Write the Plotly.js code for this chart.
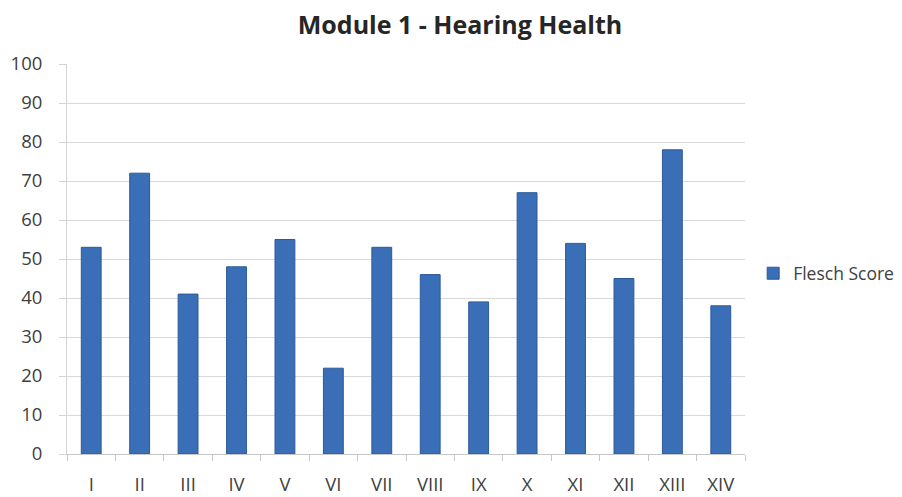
<!DOCTYPE html>
<html>
<head>
<meta charset="utf-8">
<script src="https://cdn.plot.ly/plotly-3.0.1.min.js"></script>
<style>html,body{margin:0;padding:0;background:#fff;}#chart{width:902px;height:497px;}</style>
</head>
<body>
<div id="chart"></div>
<script>
const categories = ["I","II","III","IV","V","VI","VII","VIII","IX","X","XI","XII","XIII","XIV"];
const fleschScore = [53,72,41,48,55,22,53,46,39,67,54,45,78,38];
const seriesName = "Flesch Score";
const yTicks = [0,10,20,30,40,50,60,70,80,90,100];

const font = "'Open Sans', 'Liberation Sans', sans-serif";
const trace = {
  type: 'bar',
  x: categories,
  y: fleschScore,
  name: seriesName,
  marker: { color: '#3a6eb6', line: { color: '#2c5a99', width: 1 } },
  showlegend: true
};
const layout = {
  width: 902, height: 497,
  margin: { l: 67, r: 157, t: 64, b: 43 },
  paper_bgcolor: '#ffffff', plot_bgcolor: '#ffffff',
  title: { text: '<b>Module 1 - Hearing Health</b>', font: { family: font, size: 25, color: '#262626' }, x: 0.51, xanchor: 'center', y: 0.95, yanchor: 'middle' },
  bargap: 0.59,
  xaxis: {
    type: 'category',
    tickson: 'boundaries', ticks: 'outside', ticklen: 6, tickcolor: '#c8c8c8',
    showline: true, linecolor: '#c8c8c8', linewidth: 1,
    showgrid: false,
    tickfont: { family: font, size: 18.5, color: '#404040' },
    ticklabelstandoff: 14
  },
  yaxis: {
    range: [0, 100], tickvals: yTicks, ticktext: yTicks.map(String),
    ticks: 'outside', ticklen: 7, tickcolor: '#d4d4d4',
    showline: true, linecolor: '#d4d4d4',
    gridcolor: '#d9d9d9', gridwidth: 1, zeroline: false,
    tickfont: { family: font, size: 18.5, color: '#404040' },
    ticklabelstandoff: 13
  },
  legend: { xref: 'container', yref: 'container', x: 0.835, xanchor: 'left', y: 0.45, yanchor: 'middle', font: { family: font, size: 17.5, color: '#404040' }, itemwidth: 30, bgcolor: 'rgba(0,0,0,0)' },
  showlegend: true
};
Plotly.newPlot('chart', [trace], layout, { displayModeBar: false, staticPlot: true });
</script>
</body>
</html>
